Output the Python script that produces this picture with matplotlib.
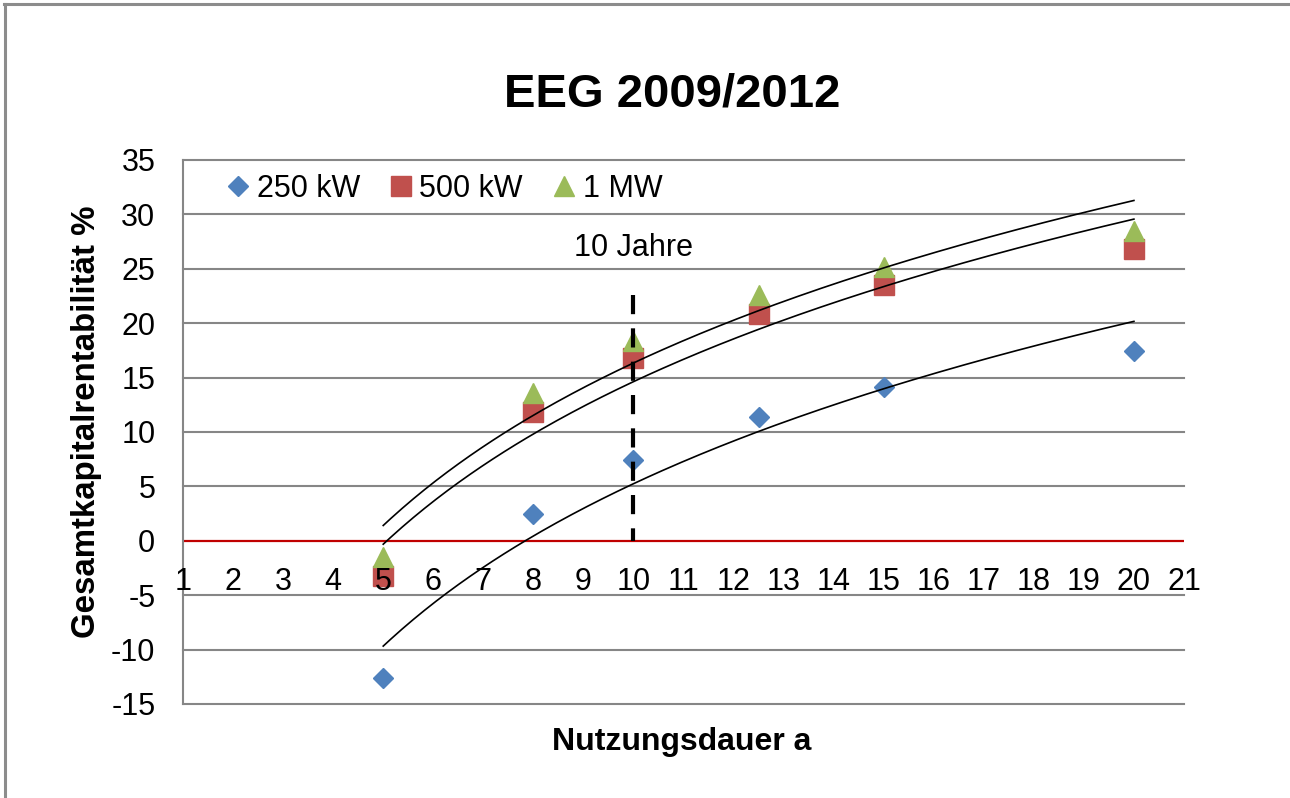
import numpy as np
import matplotlib.pyplot as plt
from matplotlib.lines import Line2D

plt.rcParams['font.family'] = ['Liberation Sans', 'DejaVu Sans']

# Nutzungsdauer in Jahren
nutzungsdauer = [5, 8, 10, 12.5, 15, 20]

# Gesamtkapitalrentabilität in %
rend_250kw = [-12.6, 2.5, 7.4, 11.4, 14.1, 17.4]
rend_500kw = [-3.2, 11.8, 16.8, 20.8, 23.5, 26.8]
rend_1mw = [-1.5, 13.6, 18.4, 22.6, 25.2, 28.5]

serien = ["250 kW", "500 kW", "1 MW"]
x_ticks = list(range(1, 22))
y_ticks = list(range(-15, 36, 5))

marke_jahre = 10
marke_oben = 22.6

farben = ["#4F81BD", "#C0504D", "#9BBB59"]
marker = ["D", "s", "^"]
marker_groesse = [10.5, 14, 14.5]

fig = plt.figure(figsize=(12.9, 7.98), dpi=100)
ax = fig.add_axes([0.1419, 0.1178, 0.7759, 0.6817])

# Rahmen des Diagramms (nur oben und links sichtbar)
fig.add_artist(Line2D([0.0031, 1.0], [0.995, 0.995], color="#8c8c8c", lw=2.2,
                      transform=fig.transFigure))
fig.add_artist(Line2D([0.0035, 0.0035], [0.0, 0.995], color="#8c8c8c", lw=2.2,
                      transform=fig.transFigure))

# Gitterlinien
for yt in y_ticks:
    if yt != 0:
        ax.axhline(yt, color="#868686", lw=1.5, zorder=1, clip_on=False)

x = np.array(nutzungsdauer)
for werte, farbe, m, gr in zip([rend_250kw, rend_500kw, rend_1mw], farben, marker, marker_groesse):
    ax.plot(x, werte, linestyle="none", marker=m, markersize=gr, color=farbe, zorder=3)

# logarithmische Trendlinien
x_fit = np.linspace(x.min(), x.max(), 200)
for werte in [rend_250kw, rend_500kw, rend_1mw]:
    a, b = np.polyfit(np.log(x), werte, 1)
    ax.plot(x_fit, a * np.log(x_fit) + b, color="black", lw=1.2, zorder=4)

# Nulllinie
ax.axhline(0, color="#C00000", lw=1.6, zorder=2)

# Markierung 10 Jahre
ax.plot([marke_jahre, marke_jahre], [marke_oben, 0], color="black", lw=3.0,
        dashes=(4.6, 3.4), zorder=5)
ax.text(marke_jahre, 26.9, "10 Jahre", ha="center", va="center", fontsize=22)

ax.set_xlim(1, 21)
ax.set_ylim(-15, 35)
ax.set_xticks(x_ticks)
ax.set_yticks(y_ticks)
ax.set_xticklabels([str(t) for t in x_ticks])
ax.set_yticklabels([str(t) for t in y_ticks])
ax.xaxis.set_zorder(6)

for s in ["top", "right"]:
    ax.spines[s].set_visible(False)
ax.spines["bottom"].set_position(("data", 0))
ax.spines["bottom"].set_visible(False)
ax.spines["left"].set_color("#868686")
ax.spines["left"].set_linewidth(1.5)

ax.tick_params(axis="x", length=0, pad=19, labelsize=22)
ax.tick_params(axis="y", length=0, pad=20, labelsize=22)

fig.text(0.521, 0.8822, "EEG 2009/2012", ha="center", va="center",
         fontsize=34, fontweight="bold")
fig.text(0.5287, 0.0702, "Nutzungsdauer a", ha="center", va="center",
         fontsize=23, fontweight="bold")
fig.text(0.0674, 0.471, "Gesamtkapitalrentabilität %", ha="center", va="center",
         rotation=90, fontsize=23.8, fontweight="bold")

handles = [Line2D([], [], linestyle="none", marker=m, markersize=gr, color=f)
           for m, gr, f in zip(marker, marker_groesse, farben)]
ax.legend(handles, serien, loc="upper left", ncol=3, frameon=False, fontsize=22,
          handlelength=0.7, handletextpad=0.25, columnspacing=1.0,
          bbox_to_anchor=(0.017, 1.025))

fig.savefig("out.png", dpi=100)
